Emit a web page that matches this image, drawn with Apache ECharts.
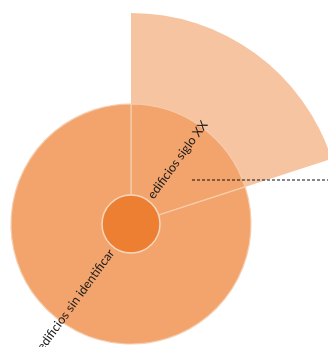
<!DOCTYPE html>
<html>
<head>
<meta charset="utf-8">
<script src="https://cdn.jsdelivr.net/npm/echarts@6/dist/echarts.min.js"></script>
<style>
html,body{margin:0;padding:0;background:#fff;}
#chart{width:328px;height:347px;}
</style>
</head>
<body>
<div id="chart"></div>
<script>
const categories = ['edificios siglo XX', 'edificios sin identificar'];
const values = [20, 80];
const highlightCategory = 'edificios siglo XX';

const CENTER = [131, 224];
const chart = echarts.init(document.getElementById('chart'), null, {renderer: 'canvas'});

const outerData = categories.map((c, i) => ({
  name: c, value: values[i],
  itemStyle: {color: c === highlightCategory ? '#F6C4A1' : 'rgba(0,0,0,0)'}
}));
const ringData = categories.map((c, i) => ({name: c, value: values[i]}));
const labelData = categories.map((c, i) => ({name: c, value: values[i]}));
const total = values.reduce((a, b) => a + b, 0);

chart.setOption({
  animation: false,
  backgroundColor: '#ffffff',
  series: [
    {
      type: 'pie', silent: true, z: 1,
      center: CENTER, radius: [0, 211], startAngle: 90, clockwise: true,
      label: {show: false}, labelLine: {show: false},
      data: outerData
    },
    {
      type: 'pie', silent: true, z: 2,
      center: CENTER, radius: [0, 120], startAngle: 90, clockwise: true,
      itemStyle: {color: '#F2A46C', borderColor: '#F6CDAE', borderWidth: 1.2},
      label: {show: false}, labelLine: {show: false},
      data: ringData
    },
    {
      type: 'pie', silent: true, z: 3,
      center: CENTER, radius: [0, 29], startAngle: 90,
      itemStyle: {color: '#ED7F33', borderColor: '#F8D7BD', borderWidth: 1.5},
      label: {show: false}, labelLine: {show: false},
      data: [{name: 'total', value: total}]
    },
    {
      type: 'pie', silent: true, z: 4,
      center: CENTER, radius: [0, 33], startAngle: 90, clockwise: true,
      avoidLabelOverlap: false,
      itemStyle: {color: 'rgba(0,0,0,0)'},
      label: {
        show: true, position: 'outside', rotate: 'radial',
        distanceToLabelLine: 0,
        formatter: '{b}',
        fontFamily: 'Lato', fontSize: 12.5, color: '#1a1a1a'
      },
      labelLine: {show: false, length: 0, length2: 0},
      data: labelData
    }
  ],
  graphic: [{
    type: 'line', z: 100, silent: true,
    shape: {x1: 192, y1: 180, x2: 328, y2: 180},
    style: {stroke: '#111', lineWidth: 1, lineDash: [3, 2]}
  }]
});
</script>
</body>
</html>
